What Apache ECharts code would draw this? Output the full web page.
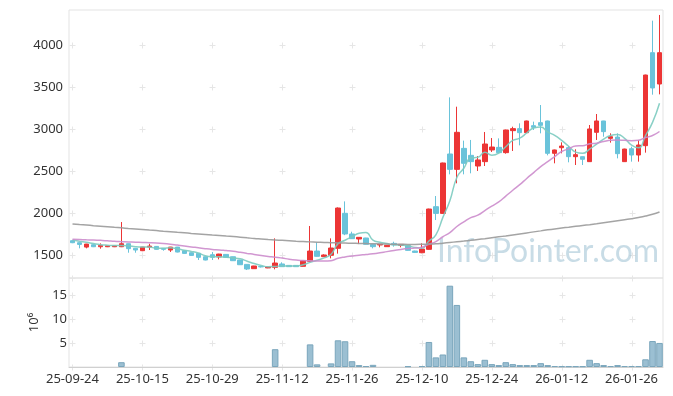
<!DOCTYPE html>
<html><head><meta charset="utf-8">
<script src="https://cdn.jsdelivr.net/npm/echarts@6/dist/echarts.min.js"></script>
<style>html,body{margin:0;padding:0;background:#fff}#c{width:673px;height:396px}</style>
</head><body><div id="c"></div>
<script>
const dates = ['25-09-24','25-09-25','25-09-26','25-09-29','25-09-30','25-10-01','25-10-02','25-10-10','25-10-13','25-10-14',
'25-10-15','25-10-16','25-10-17','25-10-20','25-10-21','25-10-22','25-10-23','25-10-24','25-10-27','25-10-28',
'25-10-29','25-10-30','25-10-31','25-11-03','25-11-04','25-11-05','25-11-06','25-11-07','25-11-10','25-11-11',
'25-11-12','25-11-13','25-11-14','25-11-17','25-11-18','25-11-19','25-11-20','25-11-21','25-11-24','25-11-25',
'25-11-26','25-11-27','25-11-28','25-12-01','25-12-02','25-12-03','25-12-04','25-12-05','25-12-08','25-12-09',
'25-12-10','25-12-11','25-12-12','25-12-15','25-12-16','25-12-17','25-12-18','25-12-19','25-12-22','25-12-23',
'25-12-24','25-12-26','25-12-29','25-12-30','26-01-02','26-01-05','26-01-06','26-01-07','26-01-08','26-01-09',
'26-01-12','26-01-13','26-01-14','26-01-15','26-01-16','26-01-19','26-01-20','26-01-21','26-01-22','26-01-23',
'26-01-26','26-01-27','26-01-28','26-01-29','26-01-30'];

const openP = [1674,1650,1598,1626,1602,1602,1602,1602,1638,1583,
1555,1598,1606,1583,1563,1598,1555,1531,1523,1483,
1507,1480,1511,1483,1444,1392,1341,1368,1350,1357,
1397,1380,1380,1369,1428,1551,1484,1500,1583,2000,
1754,1694,1706,1631,1623,1603,1642,1618,1615,1551,
1531,1571,2079,1999,2706,2523,2773,2690,2563,2615,
2754,2785,2722,2984,3008,2960,3043,3079,3099,2714,
2781,2781,2674,2674,2615,2964,3099,2892,2908,2615,
2769,2694,2805,3912,3539];
const closeP = [1650,1630,1634,1602,1618,1614,1614,1638,1579,1563,
1598,1610,1571,1571,1598,1539,1523,1499,1476,1444,
1476,1515,1476,1436,1388,1337,1373,1362,1362,1408,
1365,1365,1365,1436,1551,1488,1504,1587,2063,1754,
1698,1714,1631,1603,1632,1619,1627,1630,1559,1535,
1575,2051,1999,2599,2523,2964,2595,2615,2635,2825,
2789,2722,2992,3008,2960,3099,3023,3047,2714,2754,
2801,2674,2698,2643,3004,3099,2972,2912,2710,2765,
2694,2813,3646,3492,3912];
const highP = [1680,1652,1636,1630,1642,1620,1618,1896,1640,1585,
1600,1638,1610,1587,1600,1600,1558,1534,1525,1485,
1539,1518,1514,1485,1446,1394,1375,1372,1364,1702,
1417,1383,1383,1440,1849,1654,1512,1702,2070,2142,
1781,1716,1708,1634,1635,1622,1662,1632,1618,1555,
1643,2055,2206,2603,3380,3269,2865,2873,2682,2968,
2896,2892,2996,3031,3071,3103,3091,3289,3103,2758,
2845,2801,2762,2676,3051,3182,3101,2952,2952,2769,
2793,2873,3650,4293,4361];
const lowP = [1645,1583,1583,1598,1579,1598,1598,1598,1531,1531,
1550,1563,1567,1555,1540,1535,1520,1495,1444,1440,
1444,1452,1472,1432,1385,1325,1338,1355,1347,1333,
1362,1362,1362,1366,1420,1484,1480,1464,1520,1740,
1695,1634,1628,1583,1595,1600,1603,1595,1555,1531,
1525,1567,1920,1995,2464,2357,2464,2476,2504,2563,
2730,2718,2710,2742,2809,2956,2992,2952,2690,2595,
2714,2607,2575,2575,2611,2873,2912,2841,2654,2611,
2615,2615,2722,3412,3416];

const ma5 = [1682,1668,1655,1640,1627,1620,1616,1617,1613,1602,
1598,1598,1584,1583,1590,1578,1560,1546,1527,1496,
1484,1482,1477,1469,1458,1430,1402,1379,1364,1368,
1374,1372,1373,1388,1416,1441,1469,1513,1639,1679,
1721,1763,1772,1680,1656,1640,1622,1622,1613,1594,
1585,1670,1744,1952,2149,2427,2536,2659,2666,2727,
2692,2717,2793,2867,2894,2956,3016,3027,2969,2927,
2868,2798,2728,2714,2764,2824,2883,2926,2939,2892,
2811,2779,2926,3082,3311];
const ma20 = [1690,1688,1685,1682,1678,1673,1666,1662,1659,1656,
1653,1650,1646,1640,1632,1622,1612,1600,1590,1579,
1570,1564,1556,1548,1536,1523,1511,1497,1486,1478,
1467,1454,1444,1437,1435,1432,1431,1436,1465,1481,
1492,1502,1509,1518,1530,1544,1557,1570,1580,1586,
1597,1631,1663,1721,1770,1843,1898,1949,1978,2032,
2086,2136,2205,2275,2341,2415,2485,2556,2614,2675,
2736,2767,2802,2804,2828,2835,2854,2869,2872,2869,
2865,2869,2902,2926,2974];
const ma120 = [1872,1866,1860,1853,1847,1840,1833,1827,1820,1814,
1807,1800,1794,1787,1781,1774,1768,1761,1755,1749,
1742,1736,1729,1723,1716,1708,1700,1694,1688,1683,
1678,1673,1668,1664,1660,1656,1653,1650,1648,1646,
1644,1642,1640,1638,1636,1634,1632,1631,1630,1630,
1631,1633,1637,1645,1653,1661,1669,1678,1688,1698,
1709,1720,1731,1743,1755,1767,1779,1791,1803,1814,
1825,1835,1845,1855,1865,1876,1888,1900,1912,1924,
1936,1950,1967,1988,2015];

// volume in millions
const volume = [0,0,0,0,0,0,0,1.0,0,0,
0,0,0,0,0,0,0,0,0,0,
0,0,0,0,0,0,0,0,0,3.7,
0,0,0,0,4.7,0.55,0,0.75,5.55,5.35,
1.2,0.4,0.2,0.45,0,0,0,0,0.15,0,
0.2,5.2,2.0,2.6,16.9,12.9,2.0,1.2,0.6,1.5,
0.6,0.4,1.0,0.6,0.4,0.4,0.4,0.8,0.4,0.2,
0.15,0.15,0.15,0.15,1.5,0.8,0.4,0.2,0.4,0.2,
0.2,0.2,1.6,5.4,5.0];

const priceTicks = [1500,2000,2500,3000,3500,4000];
const volTicks = [5,10,15];
const dateTickIdx = [0,10,20,30,40,50,60,70,80];

const candle = dates.map((d,i)=>[openP[i],closeP[i],lowP[i],highP[i]]);
const volData = volume.map(v => v > 0 ? v : {value:v, itemStyle:{borderWidth:0, opacity:0}});
const priceMin = 1230, priceMax = 4420;
const volMax = 18.5;

function crossData(yvals){
  const out=[];
  dateTickIdx.forEach(x=>yvals.forEach(y=>out.push([x,y])));
  return out;
}
function renderCross(params, api){
  const p = api.coord([api.value(0), api.value(1)]);
  const x = Math.round(p[0])+0.5, y = Math.round(p[1])+0.5;
  const st = {stroke:'#e6e6e6', lineWidth:1};
  return {type:'group', children:[
    {type:'line', shape:{x1:x-3,y1:y,x2:x+3,y2:y}, style:st},
    {type:'line', shape:{x1:x,y1:y-3,x2:x,y2:y+3}, style:st}
  ]};
}

const FONT = 'Noto Sans';
const plain = v => String(v);
const chart = echarts.init(document.getElementById('c'), null, {renderer:'canvas'});
chart.setOption({
  animation:false,
  backgroundColor:'#fff',
  textStyle:{fontFamily:FONT},
  grid:[
    {left:69, right:10, top:10, height:268, show:true, borderColor:'#e3e3e3', borderWidth:1},
    {left:69, right:10, top:278, height:89, show:true, borderColor:'#e3e3e3', borderWidth:1}
  ],
  xAxis:[
    {type:'category', data:dates, gridIndex:0, boundaryGap:true,
     axisLine:{show:false}, axisTick:{show:false}, axisLabel:{show:false}, splitLine:{show:false}},
    {type:'category', data:dates, gridIndex:1, boundaryGap:true,
     axisLine:{show:true, lineStyle:{color:'#d0d0d0'}}, axisTick:{show:false},
     axisLabel:{show:true, interval:9, color:'#333', fontSize:13, fontFamily:FONT, margin:6},
     splitLine:{show:false}}
  ],
  yAxis:[
    {type:'value', gridIndex:0, min:priceMin, max:priceMax, scale:true,
     axisLine:{show:false}, axisTick:{show:false}, splitLine:{show:false},
     axisLabel:{color:'#333', fontSize:13, fontFamily:FONT, margin:6, customValues:priceTicks, formatter:plain}},
    {type:'value', gridIndex:1, min:0, max:volMax,
     axisLine:{show:false}, axisTick:{show:false}, splitLine:{show:false},
     axisLabel:{color:'#333', fontSize:13, fontFamily:FONT, margin:2, customValues:volTicks, formatter:plain},
     name:'10⁶', nameLocation:'middle', nameRotate:90, nameGap:28,
     nameTextStyle:{color:'#333', fontSize:13, fontFamily:FONT}}
  ],
  graphic:[{
    type:'text', left:437, top:236, silent:true, z:1,
    style:{text:'InfoPointer.com', font:'32px Lato', fill:'rgba(150,188,208,0.52)'}
  }],
  series:[
    {type:'custom', xAxisIndex:0, yAxisIndex:0, data:crossData(priceTicks.concat([priceMin])), renderItem:renderCross, silent:true, z:0},
    {type:'custom', xAxisIndex:1, yAxisIndex:1, data:crossData(volTicks.concat([0])), renderItem:renderCross, silent:true, z:0},
    {name:'price', type:'candlestick', xAxisIndex:0, yAxisIndex:0, data:candle, barWidth:5,
     itemStyle:{color:'#ec3535', color0:'#6ac3da', borderColor:'#ec3535', borderColor0:'#6ac3da', borderWidth:1}, z:3},
    {name:'MA5', type:'line', xAxisIndex:0, yAxisIndex:0, data:ma5, smooth:true, showSymbol:false,
     lineStyle:{color:'#7ccbc0', width:1.5, opacity:0.9}, z:4},
    {name:'MA20', type:'line', xAxisIndex:0, yAxisIndex:0, data:ma20, smooth:true, showSymbol:false,
     lineStyle:{color:'#cc8ccc', width:1.5, opacity:0.9}, z:4},
    {name:'MA120', type:'line', xAxisIndex:0, yAxisIndex:0, data:ma120, smooth:true, showSymbol:false,
     lineStyle:{color:'#9a9a9a', width:1.5, opacity:0.9}, z:4},
    {name:'volume', type:'bar', xAxisIndex:1, yAxisIndex:1, data:volData, barCategoryGap:'6%',
     itemStyle:{color:'rgba(138,180,202,0.85)', borderColor:'#7aa6bc', borderWidth:1}, z:3}
  ]
});
</script></body></html>
